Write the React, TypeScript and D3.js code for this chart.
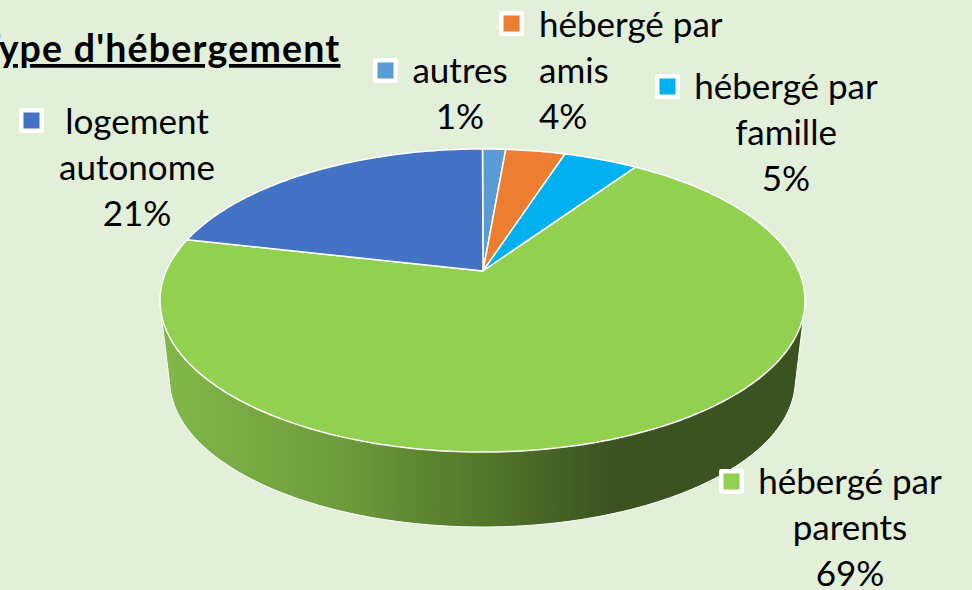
import React from "react";
import * as d3 from "d3";

const categories = ["autres", "hébergé par amis", "hébergé par famille", "hébergé par parents", "logement autonome"];
const shares = [1.4, 3.6, 4.5, 69.1, 21.4];
const colors = ["#5B9BD5", "#ED7D31", "#00B0F0", "#92D050", "#4472C4"];
const labelLines = [["autres"], ["hébergé par", "amis"], ["hébergé par", "famille"], ["hébergé par", "parents"], ["logement", "autonome"]];
const titleText = "Type d'hébergement";

// layout of each label: swatch corner, text x, first baseline, anchor
const labelLayout = [
  { sx: 373, sy: 58, tx: 460, y: 83, anchor: "middle" },
  { sx: 499, sy: 11, tx: 539, y: 37, anchor: "start" },
  { sx: 655, sy: 74, tx: 786, y: 99, anchor: "middle" },
  { sx: 719, sy: 469, tx: 850, y: 494, anchor: "middle" },
  { sx: 19, sy: 108, tx: 137, y: 134, anchor: "middle" },
];

const W = 972, H = 590;
const FONT = "Lato, Carlito, sans-serif";
const apexX = 483, apexY = 271;
const persp = 0.1947, radX = 316.3, radY = 145.8;

// perspective projection of a pie angle (clockwise from 12 o'clock) onto the tilted disc
function project(theta: number, t = 1) {
  const u = t * Math.sin(theta), v = t * Math.cos(theta);
  const w = 1 + persp * v;
  return [apexX - 0.5 + (radX * u) / w, apexY - (radY * v) / w] as [number, number];
}
// lower rim of the disc
function projectLow(theta: number) {
  const [x, y] = project(theta);
  return [apexX + (x - apexX) * 0.97, 380 + (y - 300.5) * 0.97] as [number, number];
}

const line = d3.line();
const fullCircle = d3.range(0, 361, 1).map((d) => (d * Math.PI) / 180);

export default function App() {
  const arcs = d3.pie<number>().sort(null).startAngle(0).endAngle(2 * Math.PI)(shares);
  const hull = d3.polygonHull([...fullCircle.map((a) => project(a)), ...fullCircle.map(projectLow)])!;
  return (
    <svg width={W} height={H} viewBox={`0 0 ${W} ${H}`} style={{ position: "absolute", left: 0, top: 0 }}>
      <defs>
        <linearGradient id="wall" gradientUnits="userSpaceOnUse" x1={160} x2={805} y1={0} y2={0}>
          <stop offset="0" stopColor="#82B84A" />
          <stop offset="0.3" stopColor="#6C9A3A" />
          <stop offset="0.55" stopColor="#4D6E27" />
          <stop offset="0.7" stopColor="#3B5321" />
          <stop offset="1" stopColor="#3B5321" />
        </linearGradient>
      </defs>
      <rect width={W} height={H} fill="#E2EFD9" />
      <path d={line(hull as [number, number][]) + "Z"} fill="url(#wall)" stroke="#fff" strokeWidth={1} />
      {arcs.map((a, i) => {
        const n = Math.max(2, Math.ceil((a.endAngle - a.startAngle) * 60));
        const pts = d3.range(n + 1).map((k) => project(a.startAngle + ((a.endAngle - a.startAngle) * k) / n));
        return (
          <path
            key={categories[i]}
            d={line([[apexX, apexY], ...pts])! + "Z"}
            fill={colors[i]}
            stroke="#fff"
            strokeWidth={1.5}
            strokeLinejoin="round"
          />
        );
      })}
      <text
        x={340.5}
        y={62}
        textAnchor="end"
        fontFamily={FONT}
        fontWeight={700}
        fontSize={37.5}
        letterSpacing={1.2}
        fill="#000"
        textDecoration="underline"
      >
        {titleText}
      </text>
      {categories.map((c, i) => {
        const l = labelLayout[i];
        const lines = [...labelLines[i], `${Math.round(shares[i])}%`];
        return (
          <g key={c}>
            <rect x={l.sx} y={l.sy} width={25} height={25} rx={2} fill="#fff" />
            <rect x={l.sx + 4.5} y={l.sy + 4.5} width={16} height={16} fill={colors[i]} />
            {lines.map((t, k) => (
              <text
                key={k}
                x={l.tx}
                y={l.y + k * 46}
                textAnchor={l.anchor as any}
                fontFamily={FONT}
                fontSize={35}
                fill="#000"
              >
                {t}
              </text>
            ))}
          </g>
        );
      })}
    </svg>
  );
}
